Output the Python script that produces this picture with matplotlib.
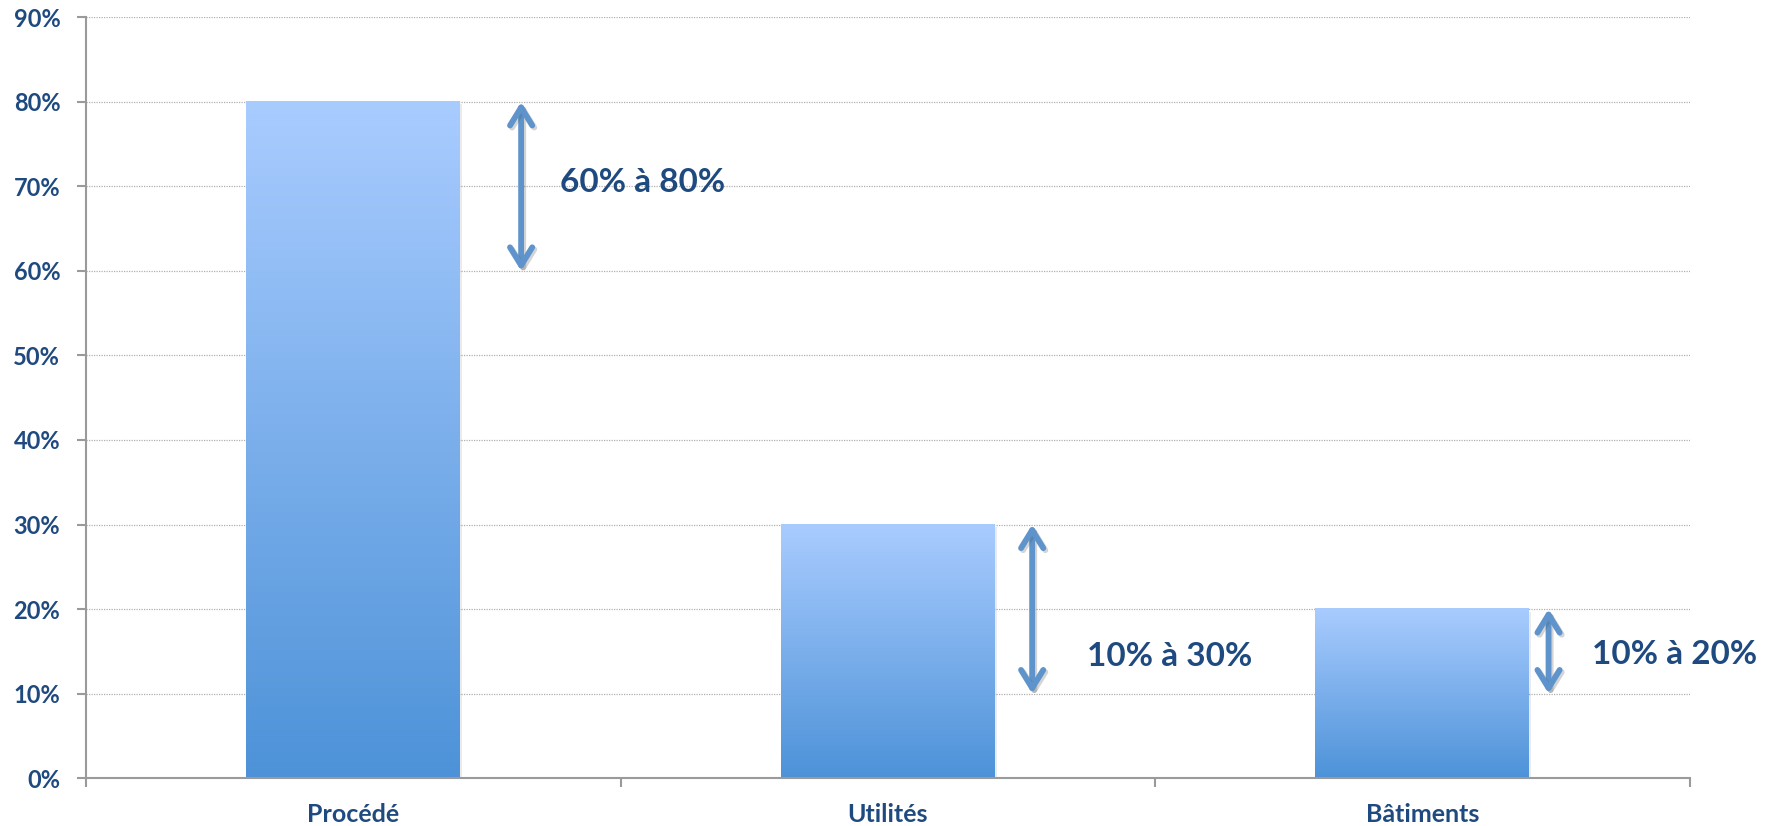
import numpy as np
import matplotlib.pyplot as plt
from matplotlib.colors import LinearSegmentedColormap
from matplotlib import patheffects as pe

# Répartition des consommations par poste
categories = ['Procédé', 'Utilités', 'Bâtiments']
valeurs = [80, 30, 20]          # hauteur des barres (%)
plage_bas = [60, 10, 10]        # bas de la fourchette (%)
plage_haut = [80, 30, 20]       # haut de la fourchette (%)
plage_txt = ['60% à 80%', '10% à 30%', '10% à 20%']
yticks = [0, 10, 20, 30, 40, 50, 60, 70, 80, 90]

bleu_fonce = '#1f4a80'
bleu_fleche = '#5e94cb'
gris = '#9a9a9a'

plt.rcParams['font.family'] = ['Lato', 'DejaVu Sans']
plt.rcParams['font.weight'] = 'bold'

fig = plt.figure(figsize=(17.73, 8.26), dpi=100)
ax = fig.add_axes([0.0485, 0.058, 0.9045, 0.921])

x = np.arange(len(categories))
barres = ax.bar(x, valeurs, width=0.40, color='none', edgecolor='none', zorder=2)

# dégradé vertical dans chaque barre (clair en haut, foncé en bas)
degrade = LinearSegmentedColormap.from_list('deg', ['#4d92d8', '#a9ccff'])
grad = np.linspace(0, 1, 256).reshape(-1, 1)
for b in barres:
    x0, w, h = b.get_x(), b.get_width(), b.get_height()
    # légère ombre portée
    ax.add_patch(plt.Rectangle((x0 + 0.004, -0.3), w, h, color='#000000',
                               alpha=0.08, zorder=1.5, lw=0))
    ax.imshow(grad, cmap=degrade, origin='lower', aspect='auto',
              extent=[x0, x0 + w, 0, h], zorder=2, interpolation='bicubic')

# flèches de fourchette et leur texte
dx_fleche = [0.314, 0.270, 0.236]
dx_texte = [0.387, 0.372, 0.317]
y_texte = [70.5, 14.4, 14.6]
ombre = [pe.SimpleLineShadow(offset=(1.5, -1.5), alpha=0.25, shadow_color='#555555'), pe.Normal()]
for i in range(len(categories)):
    ax.annotate('', xy=(x[i] + dx_fleche[i], plage_haut[i]),
                xytext=(x[i] + dx_fleche[i], plage_bas[i]),
                arrowprops=dict(arrowstyle='<->,head_length=1.3,head_width=0.8',
                                color=bleu_fleche, lw=4.2, shrinkA=0, shrinkB=0,
                                capstyle='round', joinstyle='round',
                                path_effects=ombre),
                zorder=4)
    ax.text(x[i] + dx_texte[i], y_texte[i], plage_txt[i], color=bleu_fonce,
            fontsize=24, fontweight='bold', ha='left', va='center', zorder=4)

ax.set_xlim(-0.5, len(categories) - 0.5)
ax.set_ylim(0, 90)

ax.set_yticks(yticks)
ax.set_yticklabels([f'{v}%' for v in yticks])
ax.set_xticks(x)
ax.set_xticklabels(categories)
ax.set_xticks(np.arange(-0.5, len(categories)), minor=True)

ax.tick_params(axis='y', length=6.5, width=1.5, color=gris, pad=12,
               labelsize=17, labelcolor=bleu_fonce)
ax.tick_params(axis='x', which='major', length=0, pad=18,
               labelsize=18, labelcolor=bleu_fonce)
ax.tick_params(axis='x', which='minor', length=6.5, width=1.5, color=gris)

ax.grid(axis='y', linestyle=(0, (1, 1)), color='#b0b0b0', lw=0.9, zorder=0)
ax.set_axisbelow(True)

for s in ['top', 'right']:
    ax.spines[s].set_visible(False)
for s in ['left', 'bottom']:
    ax.spines[s].set_color(gris)
    ax.spines[s].set_linewidth(1.5)

fig.savefig('out.png', dpi=100)
